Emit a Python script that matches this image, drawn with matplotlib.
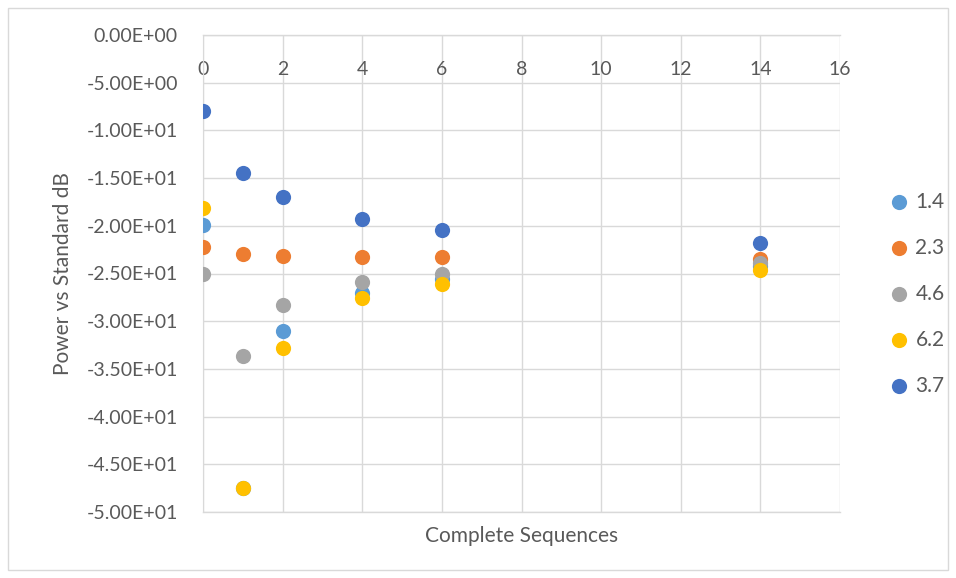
import matplotlib.pyplot as plt
from matplotlib.patches import Rectangle
from matplotlib.ticker import FuncFormatter

plt.rcParams['font.family'] = ['Lato', 'DejaVu Sans']

# complete sequences on the x axis
seqs = [0, 1, 2, 4, 6, 14]

# power vs standard (dB), one list per series
p_14 = [-19.9, -47.5, -31.0, -27.0, -25.6, -24.2]
p_23 = [-22.2, -23.0, -23.2, -23.3, -23.3, -23.5]
p_46 = [-25.0, -33.6, -28.3, -25.9, -25.1, -23.9]
p_62 = [-18.1, -47.5, -32.8, -27.6, -26.1, -24.6]
p_37 = [-8.0, -14.5, -17.0, -19.3, -20.4, -21.8]

series_names = ['1.4', '2.3', '4.6', '6.2', '3.7']
series_vals = [p_14, p_23, p_46, p_62, p_37]
series_cols = ['#5B9BD5', '#ED7D31', '#A5A5A5', '#FFC000', '#4472C4']

grey = '#595959'

fig = plt.figure(figsize=(9.56, 5.78), dpi=100)
ax = fig.add_axes([203 / 956, 1 - 512 / 578, (840 - 203) / 956, (512 - 35) / 578])

for name, vals, col in zip(series_names, series_vals, series_cols):
    ax.scatter(seqs, vals, s=120, color=col, label=name, zorder=3, linewidths=0)

ax.set_xlim(0, 16)
ax.set_ylim(-50, 0)
ax.set_xticks(range(0, 17, 2))
ax.set_yticks([-50 + 5 * i for i in range(11)])
ax.yaxis.set_major_formatter(FuncFormatter(lambda v, p: f'{v:.2E}'.replace('-0.00', '0.00')))
ax.grid(True, color='#D9D9D9', linewidth=1)
ax.set_axisbelow(True)

# x axis crosses at y = 0, so the labels sit at the top
ax.xaxis.tick_top()
ax.tick_params(axis='x', length=0, pad=-31, labelsize=14, labelcolor=grey)
ax.tick_params(axis='y', length=0, pad=18, labelsize=14, labelcolor=grey)
for lab in ax.get_xticklabels():
    lab.set_verticalalignment('bottom')

for side in ['top', 'right', 'bottom']:
    ax.spines[side].set_visible(False)
ax.spines['left'].set_color('#D9D9D9')
ax.plot([0, 16], [0, 0], color='#D9D9D9', linewidth=1, clip_on=False, zorder=2)
ax.plot([0, 16], [-50, -50], color='#D9D9D9', linewidth=1, clip_on=False, zorder=2)

ax.set_xlabel('Complete Sequences', fontsize=15, color=grey, labelpad=10)
ax.set_ylabel('Power vs Standard dB', fontsize=15, color=grey, labelpad=10)

leg = fig.legend(loc='center left', bbox_to_anchor=(878 / 956, 0.492), frameon=False,
                 fontsize=15, labelspacing=1.25, handlelength=1.0, handletextpad=0.3,
                 borderpad=0, markerscale=1.0)
for t in leg.get_texts():
    t.set_color(grey)

fig.patches.append(Rectangle((8 / 956, 8 / 578), 940 / 956, 562 / 578, transform=fig.transFigure,
                             fill=False, edgecolor='#D9D9D9', linewidth=1))

fig.savefig('out.png', dpi=100, facecolor='white')
